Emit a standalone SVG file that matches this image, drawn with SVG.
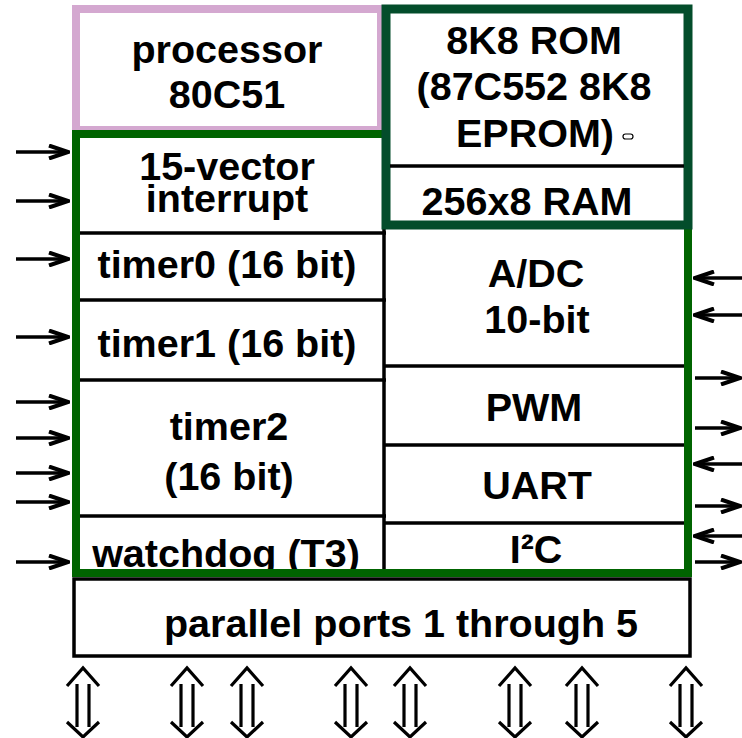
<svg xmlns="http://www.w3.org/2000/svg" width="742" height="738" viewBox="0 0 742 738">
<style>
.t{font-family:"Liberation Sans",Arial,sans-serif;font-weight:bold;font-size:39.5px;fill:#000;text-anchor:middle}
.div{stroke:#000;stroke-width:3.5;fill:none}
.ar{stroke:#000;stroke-width:3.5;fill:none}
.dbl{stroke:#000;stroke-width:3.2;fill:none}
</style>
<defs>
<marker id="head" viewBox="0 0 22 16" refX="20" refY="8" markerWidth="22" markerHeight="16" orient="auto" markerUnits="userSpaceOnUse">
<path d="M1,1.5 L20,8 L1,14.5" fill="none" stroke="#000" stroke-width="4"/>
</marker>
<path id="dblarrow" d="M-16,18 L0,0 L16,18 M-6,16 L-6,59 M6,16 L6,59 M-16,54 L0,69 L16,54" class="dbl"/>
</defs>
<rect width="742" height="738" fill="#fff"/>

<g id="processor">
<rect x="76" y="9" width="305" height="121" fill="#fff" stroke="#d4a8d0" stroke-width="8"/>
<text class="t" x="227" y="63">processor</text>
<text class="t" x="227" y="108">80C51</text>
</g>

<g id="core">
<rect x="76" y="134" width="612" height="439" fill="#fff"/>
<line class="div" x1="384" y1="134" x2="384" y2="573"/>
<line class="div" x1="76" y1="233" x2="386" y2="233"/>
<line class="div" x1="76" y1="300" x2="386" y2="300"/>
<line class="div" x1="76" y1="380" x2="386" y2="380"/>
<line class="div" x1="76" y1="516" x2="386" y2="516"/>
<line class="div" x1="384" y1="366" x2="688" y2="366"/>
<line class="div" x1="384" y1="445" x2="688" y2="445"/>
<line class="div" x1="384" y1="523" x2="688" y2="523"/>
</g>

<g id="interrupt"><text class="t" x="227" y="180">15-vector</text><text class="t" x="227" y="212">interrupt</text></g>
<g id="timer0"><text class="t" x="227" y="278">timer0 (16 bit)</text></g>
<g id="timer1"><text class="t" x="227" y="357">timer1 (16 bit)</text></g>
<g id="timer2"><text class="t" x="229" y="440">timer2</text><text class="t" x="229" y="490">(16 bit)</text></g>
<g id="watchdog"><text class="t" x="226" y="567">watchdog (T3)</text></g>
<g id="adc"><text class="t" x="536" y="287">A/DC</text><text class="t" x="537" y="333">10-bit</text></g>
<g id="pwm"><text class="t" x="534" y="421">PWM</text></g>
<g id="uart"><text class="t" x="537" y="499">UART</text></g>
<g id="i2c"><text class="t" x="536" y="563">I²C</text></g>

<g id="core-border">
<rect x="76" y="134" width="612" height="439" fill="none" stroke="#006400" stroke-width="8"/>
</g>

<g id="memory">
<rect x="386" y="9" width="302" height="216" fill="#fff" stroke="#034d2b" stroke-width="9"/>
<line class="div" x1="390" y1="166" x2="684" y2="166"/>
<text class="t" x="534" y="54">8K8 ROM</text>
<text class="t" x="534" y="100">(87C552 8K8</text>
<text class="t" x="456" y="147" style="text-anchor:start">EPROM)</text>
<rect x="623" y="134" width="10" height="5" rx="2.5" fill="none" stroke="#000" stroke-width="1.2"/>
<text class="t" x="527" y="215">256x8 RAM</text>
</g>

<g id="ports">
<rect x="74" y="579" width="616" height="77" fill="#fff" stroke="#000" stroke-width="3.5"/>
<text class="t" x="401" y="637">parallel ports 1 through 5</text>
</g>

<g id="connectors">
<line class="ar" x1="16" y1="152" x2="68" y2="152" marker-end="url(#head)"/>
<line class="ar" x1="16" y1="201" x2="68" y2="201" marker-end="url(#head)"/>
<line class="ar" x1="16" y1="259" x2="68" y2="259" marker-end="url(#head)"/>
<line class="ar" x1="16" y1="337" x2="68" y2="337" marker-end="url(#head)"/>
<line class="ar" x1="16" y1="402" x2="68" y2="402" marker-end="url(#head)"/>
<line class="ar" x1="16" y1="438" x2="68" y2="438" marker-end="url(#head)"/>
<line class="ar" x1="16" y1="473" x2="68" y2="473" marker-end="url(#head)"/>
<line class="ar" x1="16" y1="502" x2="68" y2="502" marker-end="url(#head)"/>
<line class="ar" x1="16" y1="562" x2="68" y2="562" marker-end="url(#head)"/>

<line class="ar" x1="742" y1="278" x2="695" y2="278" marker-end="url(#head)"/>
<line class="ar" x1="742" y1="315" x2="695" y2="315" marker-end="url(#head)"/>
<line class="ar" x1="695" y1="378" x2="740" y2="378" marker-end="url(#head)"/>
<line class="ar" x1="695" y1="428" x2="740" y2="428" marker-end="url(#head)"/>
<line class="ar" x1="742" y1="464" x2="695" y2="464" marker-end="url(#head)"/>
<line class="ar" x1="695" y1="506" x2="740" y2="506" marker-end="url(#head)"/>
<line class="ar" x1="742" y1="536" x2="695" y2="536" marker-end="url(#head)"/>
<line class="ar" x1="695" y1="562" x2="740" y2="562" marker-end="url(#head)"/>

<use href="#dblarrow" x="83" y="668"/>
<use href="#dblarrow" x="187" y="668"/>
<use href="#dblarrow" x="247" y="668"/>
<use href="#dblarrow" x="351" y="668"/>
<use href="#dblarrow" x="410" y="668"/>
<use href="#dblarrow" x="515" y="668"/>
<use href="#dblarrow" x="582" y="668"/>
<use href="#dblarrow" x="686" y="668"/>
</g>
</svg>
